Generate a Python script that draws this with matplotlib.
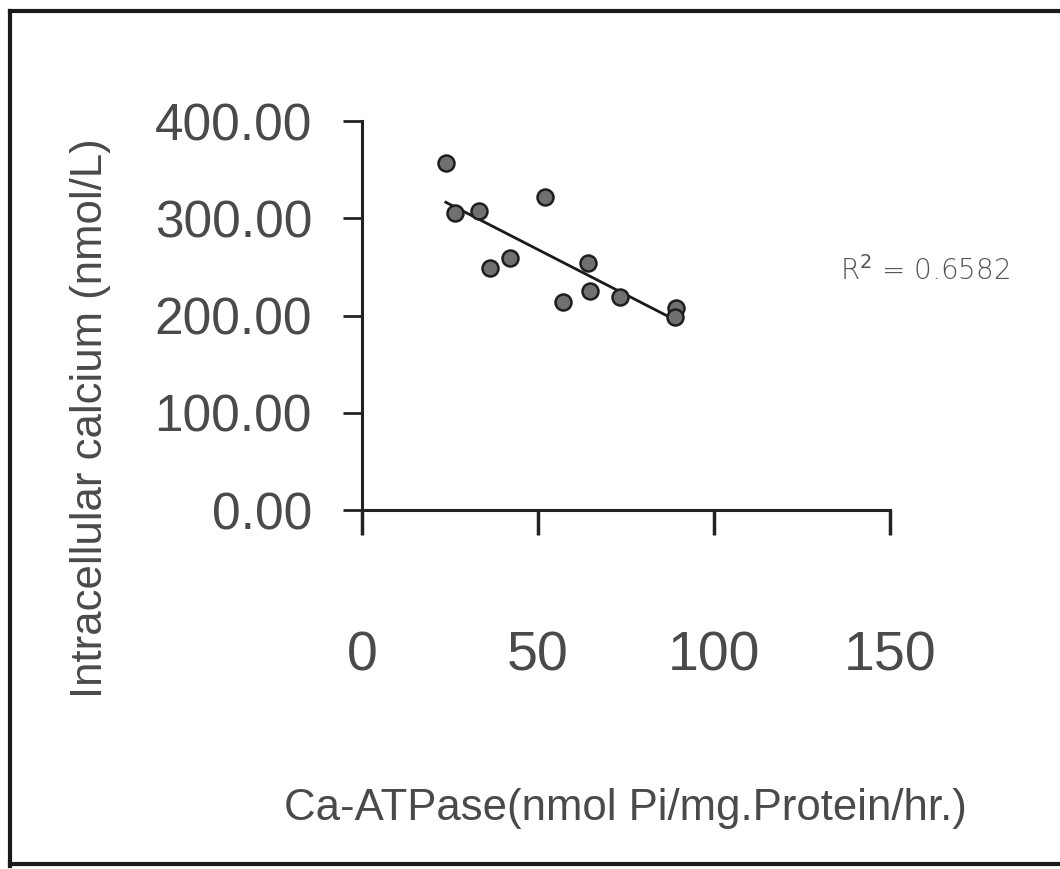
import numpy as np
import matplotlib.pyplot as plt
from matplotlib.lines import Line2D

# values
ca_atpase = [23.8, 26.4, 33.3, 51.9, 36.4, 42.0, 64.2, 57.2, 64.7, 73.2, 89.1, 88.9]
calcium = [357, 305, 308, 322, 249, 259, 254, 214, 225, 219, 208, 199]

x_ticks = [0, 50, 100, 150]
y_ticks = [0, 100, 200, 300, 400]
y_tick_labels = ["0.00", "100.00", "200.00", "300.00", "400.00"]
r2_text = "0.6582"

x_label = "Ca-ATPase(nmol Pi/mg.Protein/hr.)"
y_label = "Intracellular calcium (nmol/L)"

text_col = "#4a4a4a"

fig = plt.figure(figsize=(10.6, 8.69), dpi=100)
ax = fig.add_axes([0.3415, 0.4131, 0.4981, 0.4476])

# scatter points
ax.plot(ca_atpase, calcium, "o", ms=11.5, mfc="#707070", mec="#1e1e1e", mew=1.8,
        zorder=3, clip_on=False)

# linear trend line
slope, icept = np.polyfit(ca_atpase, calcium, 1)
xs = np.array([min(ca_atpase), max(ca_atpase)])
ax.plot(xs, slope * xs + icept, color="#1a1a1a", lw=2.0, zorder=2)

ax.set_xlim(0, 150)
ax.set_ylim(0, 400)
ax.set_xticks(x_ticks)
ax.set_xticklabels([str(v) for v in x_ticks], family="Liberation Sans",
                   fontsize=40, color=text_col)
ax.set_yticks(y_ticks)
ax.set_yticklabels(y_tick_labels, family="Liberation Sans", fontsize=37,
                   color=text_col)

for side in ["top", "right"]:
    ax.spines[side].set_visible(False)
for side in ["left", "bottom"]:
    ax.spines[side].set_linewidth(2.2)
    ax.spines[side].set_color("#222222")

ax.tick_params(axis="y", direction="out", length=14, width=2, pad=22,
               color="#222222")
ax.tick_params(axis="x", direction="out", length=18, width=2.5, pad=69,
               color="#222222")

# axis titles placed as figure text
fig.text(0.085, 0.519, y_label, rotation=90, ha="center", va="center",
         family="Liberation Sans", fontsize=31.5, color=text_col)
fig.text(0.59, 0.07, x_label, ha="center", va="center",
         family="Liberation Sans", fontsize=31.5, color=text_col)

# R squared note
fig.text(0.792, 0.688, "R$^{2}$ = " + r2_text, ha="left", va="center",
         family="DejaVu Sans", fontweight="light", fontsize=20, color="#555555")

# scanned page frame (left, top, bottom)
frame = dict(color="#1a1a1a", lw=3, transform=fig.transFigure)
fig.add_artist(Line2D([0.009, 0.009], [0.004, 0.987], **frame))
fig.add_artist(Line2D([0.009, 1.0], [0.987, 0.987], **frame))
fig.add_artist(Line2D([0.009, 1.0], [0.006, 0.006], **frame))

fig.savefig("out.png", dpi=100)
